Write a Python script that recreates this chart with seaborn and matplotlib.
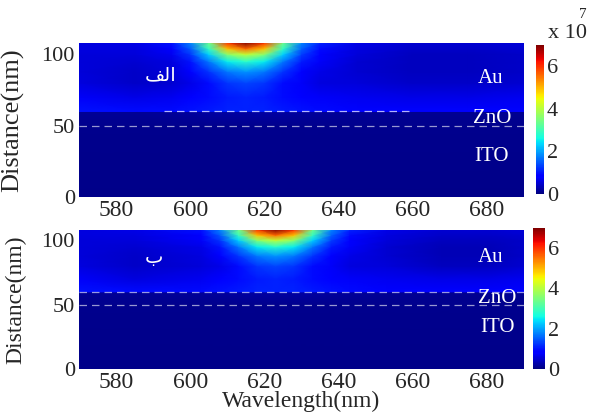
import numpy as np
import matplotlib.pyplot as plt
import seaborn as sns

# field intensity, in units of 1e7
# rows = distance (nm), columns = wavelength (nm)
dist = [0, 50, 59.9, 60, 70, 80, 88, 95, 100, 104, 108]

wl_a = [570, 585, 595, 600, 605, 610, 615, 620, 625, 630, 635, 645, 660, 675, 690]
field_a = [
    [0.08, 0.08, 0.08, 0.08, 0.08, 0.08, 0.08, 0.08, 0.08, 0.08, 0.08, 0.08, 0.08, 0.08, 0.08],
    [0.10, 0.10, 0.10, 0.10, 0.10, 0.10, 0.10, 0.10, 0.10, 0.10, 0.10, 0.10, 0.10, 0.10, 0.10],
    [0.15, 0.15, 0.18, 0.20, 0.22, 0.22, 0.22, 0.22, 0.22, 0.20, 0.18, 0.15, 0.13, 0.12, 0.12],
    [1.00, 0.95, 0.95, 1.00, 1.05, 1.10, 1.10, 1.10, 1.05, 1.00, 0.95, 0.90, 0.90, 0.90, 0.90],
    [0.75, 0.65, 0.70, 0.80, 0.95, 1.05, 1.10, 1.05, 0.95, 0.85, 0.75, 0.70, 0.65, 0.65, 0.70],
    [0.60, 0.45, 0.50, 0.65, 0.95, 1.25, 1.35, 1.25, 0.95, 0.75, 0.60, 0.55, 0.45, 0.45, 0.50],
    [0.55, 0.45, 0.55, 0.80, 1.25, 1.70, 1.90, 1.70, 1.25, 0.85, 0.65, 0.50, 0.40, 0.40, 0.45],
    [0.55, 0.50, 0.60, 1.00, 1.70, 2.50, 2.80, 2.50, 1.70, 1.05, 0.75, 0.50, 0.40, 0.40, 0.45],
    [0.55, 0.55, 0.70, 1.25, 2.30, 3.60, 4.10, 3.60, 2.30, 1.30, 0.85, 0.55, 0.40, 0.40, 0.45],
    [0.60, 0.60, 0.85, 1.50, 2.90, 4.90, 5.60, 4.90, 2.90, 1.55, 0.95, 0.60, 0.45, 0.45, 0.50],
    [0.60, 0.65, 1.00, 1.80, 3.40, 6.00, 7.00, 6.00, 3.40, 1.80, 1.10, 0.65, 0.50, 0.50, 0.55],
]

wl_b = [570, 585, 603, 608, 613, 618, 623, 628, 633, 638, 643, 653, 668, 680, 690]
field_b = [
    [0.08, 0.08, 0.08, 0.08, 0.08, 0.08, 0.08, 0.08, 0.08, 0.08, 0.08, 0.08, 0.08, 0.08, 0.08],
    [0.10, 0.10, 0.10, 0.10, 0.10, 0.10, 0.10, 0.10, 0.10, 0.10, 0.10, 0.10, 0.10, 0.10, 0.10],
    [0.15, 0.15, 0.18, 0.20, 0.22, 0.22, 0.22, 0.22, 0.22, 0.20, 0.18, 0.15, 0.13, 0.12, 0.12],
    [1.00, 0.95, 0.95, 1.00, 1.05, 1.10, 1.10, 1.10, 1.05, 1.00, 0.95, 0.90, 0.90, 0.90, 0.90],
    [0.75, 0.60, 0.70, 0.80, 0.95, 1.05, 1.10, 1.05, 0.95, 0.85, 0.75, 0.70, 0.65, 0.65, 0.70],
    [0.60, 0.45, 0.55, 0.65, 0.95, 1.25, 1.35, 1.25, 0.95, 0.75, 0.60, 0.55, 0.40, 0.40, 0.50],
    [0.55, 0.45, 0.60, 0.80, 1.25, 1.70, 1.90, 1.70, 1.25, 0.85, 0.65, 0.50, 0.35, 0.35, 0.45],
    [0.55, 0.50, 0.65, 1.00, 1.70, 2.50, 2.80, 2.50, 1.70, 1.05, 0.75, 0.50, 0.35, 0.35, 0.45],
    [0.55, 0.55, 0.75, 1.25, 2.30, 3.60, 4.10, 3.60, 2.30, 1.30, 0.85, 0.55, 0.40, 0.40, 0.45],
    [0.60, 0.60, 0.85, 1.50, 2.90, 4.90, 5.60, 4.90, 2.90, 1.55, 0.95, 0.60, 0.45, 0.45, 0.50],
    [0.60, 0.65, 1.00, 1.80, 3.40, 6.00, 7.00, 6.00, 3.40, 1.80, 1.10, 0.65, 0.50, 0.50, 0.55],
]

panel_tags = ["الف", "ب"]
layers = ["Au", "ZnO", "ITO"]
interfaces = [60, 50]
x_ticks = [580, 600, 620, 640, 660, 680]
y_ticks = [0, 50, 100]
cbar_ticks = [0, 2, 4, 6]

# matplotlib has no arabic shaping, so pick the joined glyph forms by hand
# (isolated, final, initial, medial)
forms = {
    'ا': ('\ufe8d', '\ufe8e', None, None),
    'ل': ('\ufedd', '\ufede', '\ufedf', '\ufee0'),
    'ف': ('\ufed1', '\ufed2', '\ufed3', '\ufed4'),
    'ب': ('\ufe8f', '\ufe90', '\ufe91', '\ufe92'),
}

def shape(word):
    out = []
    for k, ch in enumerate(word):
        f = forms[ch]
        left = k > 0 and forms[word[k - 1]][2] is not None
        right = k < len(word) - 1 and f[2] is not None
        if left and right:
            out.append(f[3])
        elif left:
            out.append(f[1])
        elif right:
            out.append(f[2])
        else:
            out.append(f[0])
    return ''.join(reversed(out))

sns.set_theme(style="white")
plt.rcParams['font.family'] = ['Liberation Serif', 'DejaVu Sans']

cmap = plt.get_cmap('jet')

fig = plt.figure(figsize=(5.95, 4.12), dpi=100)
W, H = 595, 412
def box(x0, y0, x1, y1):
    return [x0 / W, 1 - y1 / H, (x1 - x0) / W, (y1 - y0) / H]

ax_a = fig.add_axes(box(79, 43, 524, 197))
ax_b = fig.add_axes(box(79, 230, 524, 369))
cax_a = fig.add_axes(box(536, 45, 544, 194))
cax_b = fig.add_axes(box(533, 228, 545, 369))

tag_pos = [(0.184, 0.79), (0.169, 0.80)]
lab_y = [(0.77, 0.51, 0.26), (0.80, 0.51, 0.295)]
lab_x = [(0.924, 0.928, 0.926), (0.924, 0.94, 0.94)]
ylab_size = [19, 17]
ylab_x = [-0.124, -0.119]

panels = [(ax_a, cax_a, wl_a, field_a), (ax_b, cax_b, wl_b, field_b)]
for i, (ax, cax, wl, fld) in enumerate(panels):
    mesh = ax.pcolormesh(wl, dist, np.array(fld), shading='gouraud',
                         cmap=cmap, vmin=0, vmax=7, rasterized=True)
    ax.set_xlim(570, 690)
    ax.set_ylim(0, 108)
    ax.set_xticks(x_ticks)
    ax.set_yticks(y_ticks)
    ax.tick_params(axis='x', labelsize=17, length=0, pad=2)
    ax.tick_params(axis='y', labelsize=16, length=0, pad=3)
    for s in ax.spines.values():
        s.set_visible(False)
    ax.set_ylabel("Distance(nm)", fontsize=ylab_size[i])
    ax.yaxis.set_label_coords(ylab_x[i], 0.5)

    # layer boundaries
    if i == 0:
        ax.plot([593, 659], [interfaces[0], interfaces[0]], ls=(0, (6, 4)),
                color='white', lw=0.9, alpha=0.7)
    else:
        ax.axhline(interfaces[0], ls=(0, (6, 4)), color='white', lw=0.9, alpha=0.6)
    ax.axhline(interfaces[1], ls=(0, (6, 4)), color='white', lw=0.9, alpha=0.6)

    ax.text(tag_pos[i][0], tag_pos[i][1], shape(panel_tags[i]), transform=ax.transAxes,
            color='white', fontsize=14, family=['DejaVu Sans'], ha='center', va='center')
    for name, xx, yy in zip(layers, lab_x[i], lab_y[i]):
        ax.text(xx, yy, name, transform=ax.transAxes, color='white',
                fontsize=15, ha='center', va='center')

    cb = fig.colorbar(mesh, cax=cax, ticks=cbar_ticks)
    cb.outline.set_visible(False)
    cax.tick_params(labelsize=16, length=0, pad=2)

ax_b.set_xlabel("Wavelength(nm)", fontsize=17)
ax_b.xaxis.set_label_coords(0.5, -0.16)
fig.text(548 / W, 1 - 34 / H, "x 10", fontsize=16, ha='left', va='center')
fig.text(579 / W, 1 - 14 / H, "7", fontsize=11, ha='left', va='center')

fig.savefig("out.png", dpi=100)
